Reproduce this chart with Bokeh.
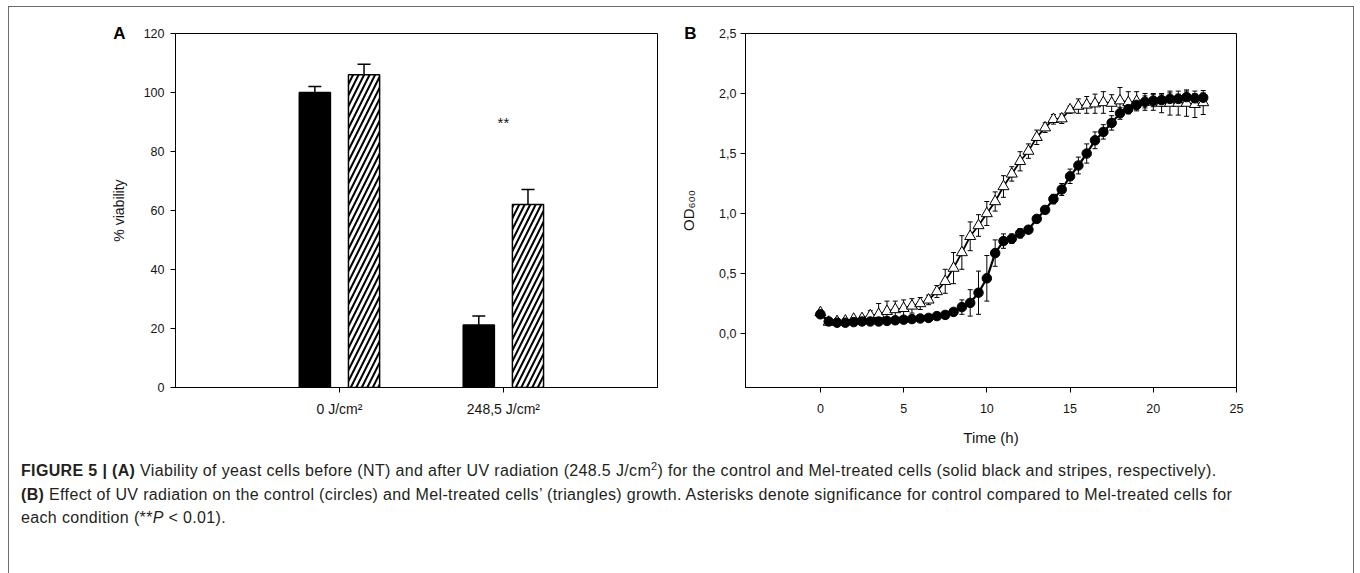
from bokeh.plotting import figure
from bokeh.layouts import column, row
from bokeh.models import (Div, Label, Whisker, TeeHead, ColumnDataSource, FixedTicker,
                          CustomJSTickFormatter, Range1d, LinearAxis)
from bokeh.embed import file_html
from bokeh.resources import INLINE

# ---------------- data: panel A ----------------
doses = ["0 J/cm\u00b2", "248,5 J/cm\u00b2"]
control_viability = [100.0, 21.2]
control_err = [2.0, 3.0]
mel_viability = [106.0, 62.0]
mel_err = [3.6, 5.1]
signif_text = "**"
signif_y = 90

# ---------------- data: panel B ----------------
time_h = [0, 0.5, 1, 1.5, 2, 2.5, 3, 3.5, 4, 4.5, 5, 5.5, 6, 6.5, 7, 7.5, 8, 8.5, 9, 9.5,
          10, 10.5, 11, 11.5, 12, 12.5, 13, 13.5, 14, 14.5, 15, 15.5, 16, 16.5, 17, 17.5,
          18, 18.5, 19, 19.5, 20, 20.5, 21, 21.5, 22, 22.5, 23]
control_od = [0.16, 0.10, 0.09, 0.09, 0.095, 0.10, 0.10, 0.10, 0.105, 0.11, 0.115, 0.12,
              0.125, 0.13, 0.145, 0.155, 0.18, 0.22, 0.255, 0.34, 0.46, 0.67, 0.77, 0.79,
              0.835, 0.865, 0.955, 1.03, 1.12, 1.20, 1.31, 1.40, 1.50, 1.61, 1.68, 1.755,
              1.835, 1.87, 1.905, 1.93, 1.94, 1.945, 1.955, 1.955, 1.97, 1.96, 1.965]
control_sd = [0.01, 0.01, 0.01, 0.01, 0.01, 0.01, 0.01, 0.01, 0.01, 0.01, 0.01, 0.01,
              0.01, 0.01, 0.01, 0.015, 0.02, 0.06, 0.11, 0.18, 0.19, 0.11, 0.06, 0.04,
              0.04, 0.03, 0.03, 0.03, 0.04, 0.05, 0.06, 0.07, 0.08, 0.07, 0.06, 0.06,
              0.05, 0.04, 0.04, 0.05, 0.05, 0.05, 0.05, 0.04, 0.05, 0.04, 0.04]
mel_od = [0.175, 0.095, 0.10, 0.105, 0.12, 0.125, 0.15, 0.16, 0.185, 0.20, 0.21, 0.23,
          0.25, 0.28, 0.35, 0.435, 0.545, 0.675, 0.81, 0.90, 1.00, 1.10, 1.225, 1.33,
          1.435, 1.52, 1.635, 1.715, 1.785, 1.79, 1.865, 1.895, 1.905, 1.915, 1.925, 1.92,
          1.94, 1.925, 1.935, 1.93, 1.93, 1.92, 1.92, 1.92, 1.92, 1.91, 1.925]
mel_sd = [0.01, 0.01, 0.015, 0.015, 0.02, 0.02, 0.04, 0.09, 0.085, 0.07, 0.07, 0.06,
          0.05, 0.04, 0.05, 0.10, 0.13, 0.14, 0.12, 0.09, 0.10, 0.08, 0.09, 0.06,
          0.08, 0.06, 0.06, 0.04, 0.04, 0.04, 0.03, 0.06, 0.07, 0.08, 0.09, 0.07,
          0.11, 0.09, 0.08, 0.07, 0.07, 0.08, 0.10, 0.10, 0.11, 0.11, 0.10]

panel_letters = ["A", "B"]

caption_html = (
    "<b>FIGURE 5 | (A)</b> Viability of yeast cells before (NT) and after UV radiation "
    "(248.5 J/cm<sup style='font-size:11px'>2</sup>) for the control and Mel-treated cells "
    "(solid black and stripes, respectively).<br>"
    "<b>(B)</b> Effect of UV radiation on the control (circles) and Mel-treated cells\u2019 "
    "(triangles) growth. Asterisks denote significance for control compared to Mel-treated "
    "cells for<br>each condition (**<i>P</i> &lt; 0.01)."
)

FONT = "Liberation Sans"
TXT = "#151515"


def style_axes(p):
    p.grid.visible = False
    p.outline_line_color = "black"
    p.outline_line_width = 1
    p.background_fill_color = "white"
    p.border_fill_color = "white"
    for ax in (p.xaxis[0], p.yaxis[0]):
        ax.axis_line_color = "black"
        ax.axis_line_width = 1
        ax.major_tick_line_color = "black"
        ax.major_tick_out = 5
        ax.major_tick_in = 0
        ax.minor_tick_line_color = None
        ax.major_label_text_font = FONT
        ax.major_label_text_font_size = "12.5px"
        ax.major_label_text_color = TXT
        ax.axis_label_text_font = FONT
        ax.axis_label_text_font_style = "normal"
        ax.axis_label_text_color = TXT


def letter_axis(p, letter, at, label, letter_standoff, label_standoff, label_size):
    # outer left axis carrying the panel letter (as a tick label) and the axis title
    ax = LinearAxis(ticker=FixedTicker(ticks=[at]),
                    formatter=CustomJSTickFormatter(args=dict(t=letter), code="return t;"),
                    axis_line_color=None, major_tick_line_color=None,
                    minor_tick_line_color=None, major_tick_out=0, major_tick_in=0,
                    major_label_standoff=letter_standoff,
                    major_label_text_font=FONT, major_label_text_font_size="17px",
                    major_label_text_font_style="bold", major_label_text_color="black",
                    axis_label=label, axis_label_standoff=label_standoff,
                    axis_label_text_font=FONT, axis_label_text_font_size=label_size,
                    axis_label_text_font_style="normal", axis_label_text_color=TXT)
    p.add_layout(ax, "left")


# ---------------- panel A ----------------
n = len(doses)
pos = [i + 1 for i in range(n)]
off = 0.15
bw = 0.19

pA = figure(frame_width=485, frame_height=354, min_border_left=166, min_border_right=20,
            min_border_top=26, min_border_bottom=62,
            x_range=Range1d(0, 2.94), y_range=Range1d(0, 120),
            output_backend="svg", toolbar_location=None, tools="")
style_axes(pA)

srcA_c = ColumnDataSource(dict(x=[p - off for p in pos], top=control_viability,
                               up=[v + e for v, e in zip(control_viability, control_err)]))
srcA_m = ColumnDataSource(dict(x=[p + off for p in pos], top=mel_viability,
                               up=[v + e for v, e in zip(mel_viability, mel_err)]))

for src in (srcA_c, srcA_m):
    pA.add_layout(Whisker(source=src, base="x", lower="top", upper="up", dimension="height",
                          line_width=1.5, line_color="black",
                          upper_head=TeeHead(size=13, line_width=1.5, line_color="black"),
                          lower_head=None))

pA.vbar(x="x", top="top", width=bw, source=srcA_c, fill_color="black",
        line_color="black", line_width=1.5)
pA.vbar(x="x", top="top", width=bw, source=srcA_m, fill_color="white",
        line_color="black", line_width=1.5,
        hatch_pattern="right_diagonal_line", hatch_color="black",
        hatch_weight=2, hatch_scale=11)

pA.xaxis.ticker = FixedTicker(ticks=pos)
pA.xaxis.formatter = CustomJSTickFormatter(args=dict(labels=doses),
                                           code="return labels[Math.round(tick) - 1] || '';")
pA.xaxis.major_label_text_font_size = "14px"
pA.xaxis.major_label_standoff = 8
pA.yaxis.ticker = FixedTicker(ticks=[0, 20, 40, 60, 80, 100, 120])
pA.yaxis.major_label_standoff = 6
letter_axis(pA, panel_letters[0], 120, "% viability", 15, -17, "14px")

pA.add_layout(Label(x=pos[1], y=signif_y, text=signif_text, text_font=FONT,
                    text_font_size="15px", text_color=TXT,
                    text_align="center", text_baseline="middle"))

# ---------------- panel B ----------------
pB = figure(frame_width=495, frame_height=354, min_border_left=62, min_border_right=116,
            min_border_top=26, min_border_bottom=62,
            x_range=Range1d(-4.5, 25), y_range=Range1d(-0.45, 2.5),
            output_backend="svg", toolbar_location=None, tools="")
style_axes(pB)

srcM = ColumnDataSource(dict(t=time_h, v=mel_od,
                             lo=[v - s for v, s in zip(mel_od, mel_sd)],
                             hi=[v + s for v, s in zip(mel_od, mel_sd)]))
srcC = ColumnDataSource(dict(t=time_h, v=control_od,
                             lo=[v - s for v, s in zip(control_od, control_sd)],
                             hi=[v + s for v, s in zip(control_od, control_sd)]))

for src in (srcM, srcC):
    pB.add_layout(Whisker(source=src, base="t", lower="lo", upper="hi", dimension="height",
                          line_width=1, line_color="black",
                          upper_head=TeeHead(size=5, line_width=1, line_color="black"),
                          lower_head=TeeHead(size=5, line_width=1, line_color="black")))

pB.line("t", "v", source=srcM, line_color="black", line_width=1.8)
pB.scatter("t", "v", source=srcM, marker="triangle", size=11, fill_color="white",
           line_color="black", line_width=1)
pB.line("t", "v", source=srcC, line_color="black", line_width=2.2)
pB.scatter("t", "v", source=srcC, marker="circle", size=9.5, fill_color="black",
           line_color="black", line_width=1)

pB.xaxis.ticker = FixedTicker(ticks=[0, 5, 10, 15, 20, 25])
pB.xaxis.major_label_standoff = 11
pB.xaxis.axis_label = "Time (h)"
pB.xaxis.axis_label_text_font_size = "15px"
pB.xaxis.axis_label_standoff = 13
pB.yaxis.ticker = FixedTicker(ticks=[0, 0.5, 1.0, 1.5, 2.0, 2.5])
pB.yaxis.formatter = CustomJSTickFormatter(code="return tick.toFixed(1).replace('.', ',');")
pB.yaxis.major_label_standoff = 4
letter_axis(pB, panel_letters[1], 2.5, "OD\u2086\u2080\u2080", 20, -16, "15px")

# ---------------- caption ----------------
cap = Div(text=("<div style=\"font-family:'Liberation Sans',Arial,sans-serif;"
                "font-size:16px;letter-spacing:0.35px;line-height:23.5px;color:#231f20;"
                "padding:1px 0 0 7px;white-space:nowrap;\">" + caption_html + "</div>"),
          width=1344, height=116)

layout = column(row(pA, pB), cap, width=1346,
                styles={"border": "1px solid #6d6d6d", "border-bottom": "none",
                        "margin-left": "8px", "margin-top": "6px"})

open("out.html", "w").write(file_html(layout, INLINE))
